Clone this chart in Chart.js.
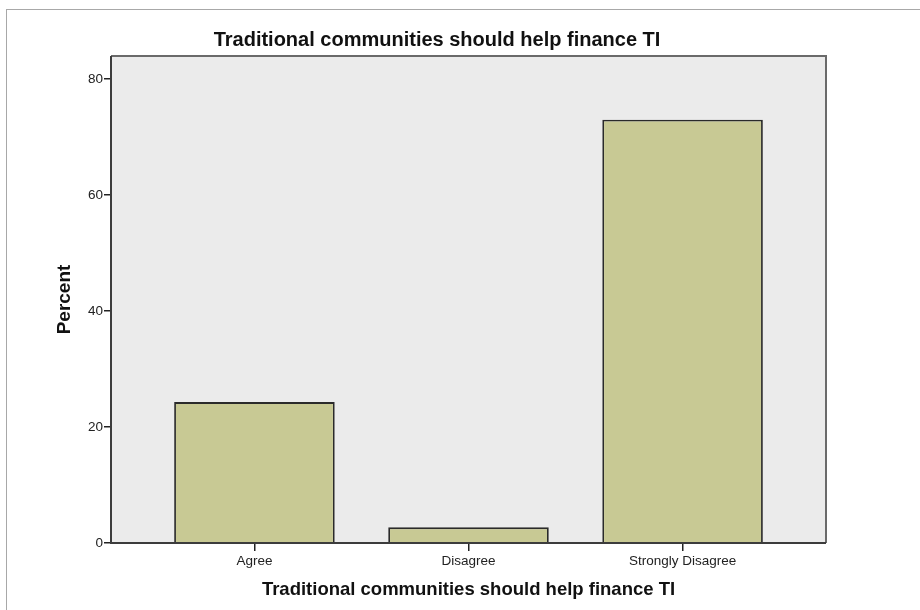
<!DOCTYPE html>
<html>
<head>
<meta charset="utf-8">
<script src="https://cdn.jsdelivr.net/npm/chart.js@4.4.1/dist/chart.umd.min.js"></script>
<style>
  html, body { margin: 0; padding: 0; background: #ffffff; }
  #wrap { position: relative; width: 920px; height: 610px; overflow: hidden; }
  #frame { position: absolute; left: 6px; top: 9px; width: 940px; height: 640px;
           border-top: 1px solid #a8a8a8; border-left: 1px solid #a8a8a8; }
  canvas { position: absolute; left: 0; top: 0; }
</style>
</head>
<body>
<div id="wrap">
  <div id="frame"></div>
  <canvas id="c" width="920" height="610"></canvas>
</div>
<script>
const categories = ["Agree", "Disagree", "Strongly Disagree"];
const percents = [24.3, 2.7, 73.0];
const yTickValues = [0, 20, 40, 60, 80];
const chartTitle = "Traditional communities should help finance TI";
const xTitle = "Traditional communities should help finance TI";
const yTitle = "Percent";

const FONT = "'Liberation Sans', Arial, Helvetica, sans-serif";

const plotFrame = {
  id: 'plotFrame',
  beforeDraw(chart) {
    const {ctx, chartArea: a} = chart;
    ctx.save();
    ctx.fillStyle = '#ebebeb';
    ctx.fillRect(a.left, a.top, a.right - a.left, a.bottom - a.top);
    ctx.restore();
  },
  afterDatasetsDraw(chart) {
    const {ctx, chartArea: a} = chart;
    ctx.save();
    ctx.lineWidth = 2;
    ctx.strokeStyle = '#6a6a6a';
    ctx.beginPath();
    ctx.moveTo(a.left, a.top); ctx.lineTo(a.right, a.top); ctx.lineTo(a.right, a.bottom);
    ctx.stroke();
    ctx.strokeStyle = '#3c3c3c';
    ctx.beginPath();
    ctx.moveTo(a.left, a.top); ctx.lineTo(a.left, a.bottom); ctx.lineTo(a.right, a.bottom);
    ctx.stroke();
    ctx.restore();
  }
};

new Chart(document.getElementById('c'), {
  type: 'bar',
  data: {
    datasets: [{
      data: categories.map((c, i) => ({x: i, y: percents[i]})),
      backgroundColor: '#c8c994',
      borderColor: '#2a2a2a',
      borderWidth: 1.8,
      categoryPercentage: 1,
      barPercentage: 0.75
    }]
  },
  plugins: [plotFrame],
  options: {
    responsive: false,
    animation: false,
    layout: { padding: { left: 48, right: 94, top: 0, bottom: 0 } },
    plugins: {
      legend: { display: false },
      tooltip: { enabled: false },
      title: {
        display: true,
        text: chartTitle,
        color: '#111',
        font: { family: FONT, size: 20, weight: 'bold' },
        padding: { top: 28.1, bottom: 3.9 }
      }
    },
    scales: {
      x: {
        type: 'linear',
        offset: false,
        min: -0.67,
        max: 2.67,
        afterBuildTicks(scale) { scale.ticks = categories.map((c, i) => ({value: i})); },
        afterFit(scale) { scale.height = 67; },
        border: { display: false },
        grid: { display: true, offset: false, drawOnChartArea: false, drawTicks: true, tickLength: 8, color: '#222', lineWidth: 1.5 },
        ticks: {
          padding: 2.5,
          color: '#222',
          font: { family: FONT, size: 13.5 },
          callback: (v) => categories[v] ?? ''
        },
        title: {
          display: true,
          text: xTitle,
          color: '#111',
          font: { family: FONT, size: 18.5, weight: 'bold' },
          padding: { top: 0, bottom: 8.6 }
        }
      },
      y: {
        min: 0,
        max: 84,
        afterBuildTicks(scale) { scale.ticks = yTickValues.map(v => ({value: v})); },
        afterFit(scale) { scale.width = 63; },
        border: { display: false },
        grid: { display: true, drawOnChartArea: false, drawTicks: true, tickLength: 7, color: '#222', lineWidth: 1.5 },
        ticks: {
          padding: 1,
          color: '#222',
          font: { family: FONT, size: 13.5 }
        },
        title: {
          display: true,
          text: yTitle,
          color: '#111',
          font: { family: FONT, size: 19, weight: 'bold' },
          padding: { top: 5.6, bottom: 0 }
        }
      }
    }
  }
});
</script>
</body>
</html>
